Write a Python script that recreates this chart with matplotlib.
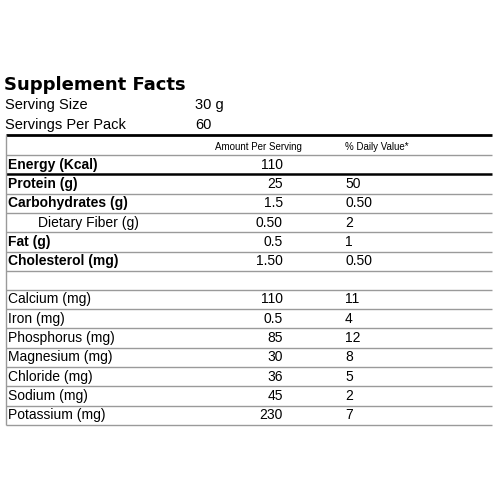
import matplotlib.pyplot as plt

plt.rcParams["font.family"] = ["Liberation Sans", "DejaVu Sans"]

serving_info = [("Serving Size", "30 g"), ("Servings Per Pack", "60")]

macro_names = ["Energy (Kcal)", "Protein (g)", "Carbohydrates (g)", "Dietary Fiber (g)",
               "Fat (g)", "Cholesterol (mg)"]
macro_amounts = ["110", "25", "1.5", "0.50", "0.5", "1.50"]
macro_dv = ["", "50", "0.50", "2", "1", "0.50"]
macro_bold = [True, True, True, False, True, True]

mineral_names = ["Calcium (mg)", "Iron (mg)", "Phosphorus (mg)", "Magnesium (mg)",
                 "Chloride (mg)", "Sodium (mg)", "Potassium (mg)"]
mineral_amounts = ["110", "0.5", "85", "30", "36", "45", "230"]
mineral_dv = ["11", "4", "12", "8", "5", "2", "7"]

ROW_H = 19.3
LEFT, RIGHT = 6, 492
AMT_X, DV_X = 283, 345
GRAY = "#9a9a9a"

fig = plt.figure(figsize=(5, 5), dpi=100)
ax = fig.add_axes([0, 0, 1, 1])
ax.set_xlim(0, 500)
ax.set_ylim(500, 0)
ax.axis("off")

ax.text(4, 85, "Supplement Facts", fontsize=13, fontweight="bold", va="center",
        family="DejaVu Sans")
for i, (label, val) in enumerate(serving_info):
    y = 105 + i * 20
    ax.text(5, y, label, fontsize=10.5, va="center")
    ax.text(195, y, val, fontsize=10.5, va="center")

ax.hlines(135, LEFT, RIGHT, color="black", lw=2)
ax.text(215, 147, "Amount Per Serving", fontsize=7, va="center")
ax.text(DV_X, 147, "% Daily Value*", fontsize=7, va="center")
ax.hlines(155, LEFT, RIGHT, color=GRAY, lw=1)

y0 = 155
for i, (n, a, d, b) in enumerate(zip(macro_names, macro_amounts, macro_dv, macro_bold)):
    yc = y0 + (i + 0.5) * ROW_H
    x = 8 if b else 38
    ax.text(x, yc, n, fontsize=10, va="center", fontweight="bold" if b else "normal")
    ax.text(AMT_X, yc, a, fontsize=10, va="center", ha="right")
    ax.text(DV_X, yc, d, fontsize=10, va="center")
    yl = y0 + (i + 1) * ROW_H
    if i == 0:
        ax.hlines(yl, LEFT, RIGHT, color="black", lw=1.8)
    else:
        ax.hlines(yl, LEFT, RIGHT, color=GRAY, lw=1)
y_end1 = y0 + len(macro_names) * ROW_H

y1 = y_end1 + 19
ax.hlines(y1, LEFT, RIGHT, color=GRAY, lw=1)
for i, (n, a, d) in enumerate(zip(mineral_names, mineral_amounts, mineral_dv)):
    yc = y1 + (i + 0.5) * ROW_H
    ax.text(8, yc, n, fontsize=10, va="center")
    ax.text(AMT_X, yc, a, fontsize=10, va="center", ha="right")
    ax.text(DV_X, yc, d, fontsize=10, va="center")
    ax.hlines(y1 + (i + 1) * ROW_H, LEFT, RIGHT, color=GRAY, lw=1)
y_end2 = y1 + len(mineral_names) * ROW_H

ax.vlines(LEFT, 135, y_end2, color=GRAY, lw=1)

fig.savefig("out.png", dpi=100)
